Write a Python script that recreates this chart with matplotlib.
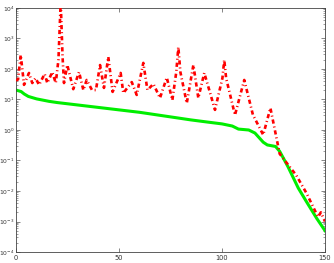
import numpy as np
import matplotlib as mpl
mpl.use("Agg")
import matplotlib.pyplot as plt
from matplotlib.ticker import LogLocator, FixedLocator

# red dash-dot curve: (index, log10 value)
red_x = [0, 1, 2.3, 3.9, 6.3, 7.9, 9.5, 11.2, 13.9, 15.2, 17.6, 19.3, 20.6, 21.7, 22.6,
         23.3, 24.9, 27.8, 30.6, 32.7, 34.3, 36.9, 38.8, 40.8, 42.7, 44.8, 46.9, 50.8,
         52.1, 56.2, 58.6, 61.8, 63.8, 66.7, 69.9, 73.2, 75.9, 77.8, 78.8, 79.8, 82.9,
         86.1, 88.5, 91.4, 96.6, 100.2, 101.1, 102.0, 106.3, 110.8, 115, 120, 123.5,
         128, 133, 136, 141, 146.6, 148, 150]
red_log = [1.62, 1.66, 2.46, 1.48, 1.87, 1.54, 1.70, 1.48, 1.84, 1.54, 1.90, 1.54, 2.3, 4.2, 2.4,
           1.54, 2.13, 1.34, 1.90, 1.31, 1.64, 1.31, 1.31, 2.13, 1.38, 2.40, 1.25, 1.87,
           1.21, 1.57, 1.15, 2.20, 1.31, 1.51, 1.05, 1.72, 0.98, 1.9, 2.72, 1.9, 0.88,
           2.13, 1.05, 1.87, 0.66, 1.7, 2.30, 1.7, 0.49, 1.64, 0.5, -0.16, 0.72,
           -0.78, -1.22, -1.48, -2.07, -2.85, -2.7, -3.0]

# green solid curve
green_x = [0, 2.5, 4, 6, 8, 10, 13, 16, 20, 30, 40, 50, 60, 75, 85, 93, 100, 105,
           108, 113, 116, 120, 122, 126, 128, 132, 137, 141, 146, 150]
green_log = [1.31, 1.26, 1.18, 1.10, 1.06, 1.02, 0.98, 0.94, 0.90, 0.82, 0.74, 0.66,
             0.58, 0.43, 0.33, 0.26, 0.20, 0.13, 0.03, 0.0, -0.10, -0.40, -0.49, -0.54,
             -0.70, -1.20, -1.90, -2.35, -2.90, -3.30]

x_ticks = [0, 50, 100, 150]
y_ticks = [1e-4, 1e-3, 1e-2, 1e-1, 1e0, 1e1, 1e2, 1e3, 1e4]

fig = plt.figure(figsize=(3.34, 2.63), dpi=100)
ax = fig.add_axes([16 / 334, 1 - 252 / 263, 309 / 334, 244 / 263])

ax.plot(green_x, 10 ** np.array(green_log), "-", color="#00ee00", lw=2.2, zorder=2)
ax.plot(red_x, 10 ** np.array(red_log), color="#ff0000", lw=1.9,
        ls=(0, (1.6, 1.1, 0.4, 1.1)), zorder=3)

ax.set_yscale("log")
ax.set_xlim(0, 150)
ax.set_ylim(1e-4, 1e4)
ax.xaxis.set_major_locator(FixedLocator(x_ticks))
ax.yaxis.set_major_locator(FixedLocator(y_ticks))
ax.yaxis.set_minor_locator(LogLocator(base=10, subs=np.arange(2, 10), numticks=20))
ax.set_yticklabels([r"$10^{%d}$" % e for e in range(-4, 5)])
ax.tick_params(which="both", direction="in", top=True, right=True,
               labelcolor="#333333", color="#555555")
ax.tick_params(axis="y", labelsize=4.3, pad=1)
ax.tick_params(axis="x", labelsize=4.8, pad=2)
ax.tick_params(which="major", length=3, width=0.5)
ax.tick_params(which="minor", length=1.5, width=0.4)
for s in ax.spines.values():
    s.set_linewidth(0.6)
    s.set_color("#444444")

fig.savefig("out.png", dpi=100)
